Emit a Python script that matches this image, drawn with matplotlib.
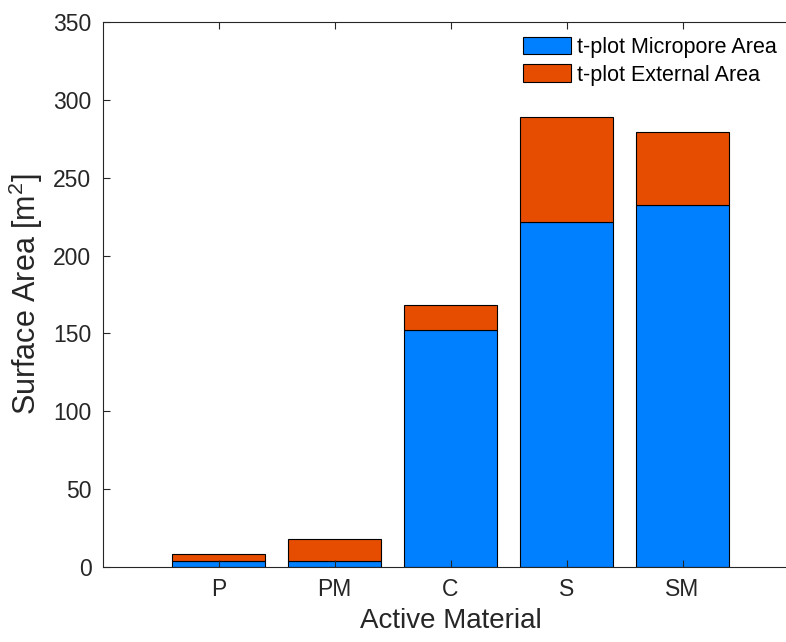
import matplotlib
matplotlib.use('Agg')
import matplotlib.pyplot as plt
import numpy as np

# data
materials = ['P', 'PM', 'C', 'S', 'SM']
micropore = [4.1, 4.1, 152.4, 221.4, 232.2]
external = [4.1, 13.7, 15.9, 67.8, 47.1]   # stacked on top of micropore

plt.rcParams['font.family'] = ['Liberation Sans', 'DejaVu Sans']
plt.rcParams['mathtext.fontset'] = 'custom'
plt.rcParams['mathtext.rm'] = 'Liberation Sans'
plt.rcParams['mathtext.it'] = 'Liberation Sans'
text_col = '#262626'

fig = plt.figure(figsize=(7.86, 6.42), dpi=100)
# axes box runs a little past the right edge, like the cropped original
ax = fig.add_axes([102.5 / 786, 75 / 642, 696 / 786, 545 / 642])

x = np.arange(1, len(materials) + 1)
ax.bar(x, micropore, width=0.8, color='#0080FF', edgecolor='black',
       linewidth=0.8, label='t-plot Micropore Area')
ax.bar(x, external, width=0.8, bottom=micropore, color='#E64D00',
       edgecolor='black', linewidth=0.8, label='t-plot External Area')

ax.set_xlim(0, 6)
ax.set_ylim(0, 350)
ax.set_xticks(x)
ax.set_xticklabels(materials)
ax.set_yticks(np.arange(0, 351, 50))
ax.tick_params(direction='in', length=5, width=0.8, colors=text_col,
               labelsize=16.5, top=True, right=True, pad=8)
for s in ax.spines.values():
    s.set_color(text_col)
    s.set_linewidth(0.8)

ax.set_xlabel('Active Material', fontsize=20, color=text_col, labelpad=5)
ax.set_ylabel(r'Surface Area [m$^\mathrm{2}$]', fontsize=22, color=text_col, labelpad=6)

ax.legend(loc='upper left', bbox_to_anchor=(523 / 786, 1 - 37 / 642),
          bbox_transform=fig.transFigure, frameon=False, fontsize=15.5,
          handlelength=2.25, handleheight=0.85, handletextpad=0.25,
          labelspacing=0.3, borderpad=0, borderaxespad=0)

plt.savefig('out.png', dpi=100)
